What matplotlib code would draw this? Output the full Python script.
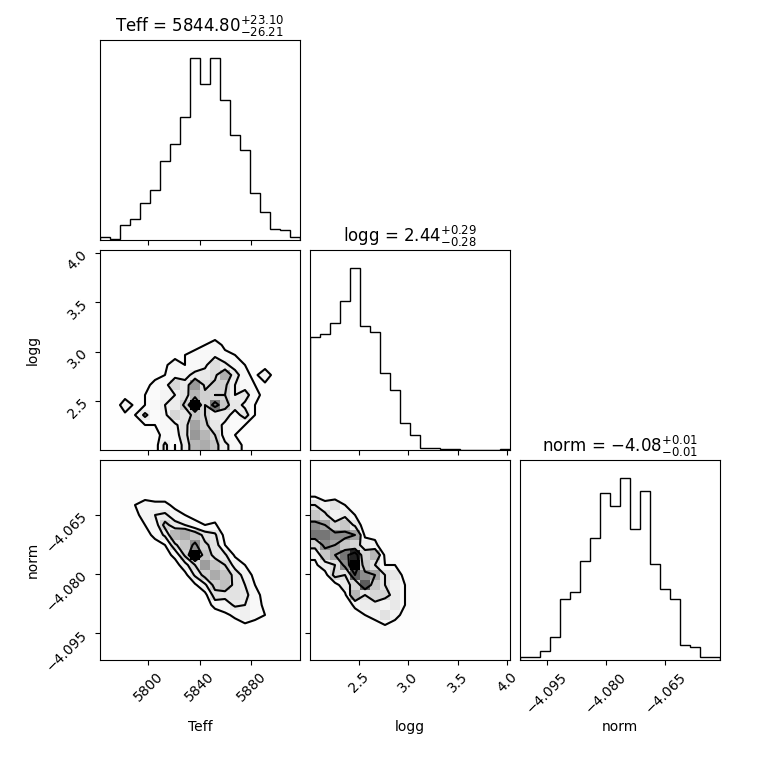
import numpy as np
import matplotlib
matplotlib.use("Agg")
import matplotlib.pyplot as plt
from matplotlib.colors import LinearSegmentedColormap
from matplotlib.ticker import FixedLocator, FixedFormatter, NullLocator

# ---------------- data ----------------
labels = ["Teff", "logg", "norm"]
teff_range = (5762.3, 5917.9)
logg_range = (2.005, 4.03)
norm_range = (-4.1017, -4.0512)

teff_counts = [2, 1, 11, 15, 27, 36, 57, 70, 89, 132, 113, 132, 102, 76, 65, 34, 20, 8, 7, 2]
logg_counts = [101, 104, 114, 134, 163, 111, 106, 69, 54, 24, 13, 2, 2, 1, 1, 0, 0, 0, 0, 1]
norm_counts = [2, 2, 6, 16, 42, 47, 68, 84, 115, 106, 125, 90, 116, 66, 49, 42, 10, 9, 2, 2]

teff_ticks = [5800, 5840, 5880]
teff_ticklabels = ["5800", "5840", "5880"]
logg_ticks = [2.5, 3.0, 3.5, 4.0]
logg_ticklabels = ["2.5", "3.0", "3.5", "4.0"]
norm_ticks = [-4.095, -4.080, -4.065]
norm_ticklabels = ["\u22124.095", "\u22124.080", "\u22124.065"]

titles = [r"Teff = $5844.80_{-26.21}^{+23.10}$",
          r"logg = $2.44_{-0.28}^{+0.29}$",
          r"norm = $-4.08_{-0.01}^{+0.01}$"]

# 2D histogram counts: rows = y bins (bottom -> top), columns = x bins (left -> right)
teff_logg_grid = [
    [0, 0, 1, 1, 1, 1, 8, 3, 9, 16, 17, 14, 8, 5, 2, 1, 1, 0, 0, 0],
    [0, 0, 0, 1, 1, 2, 4, 5, 10, 19, 16, 12, 5, 3, 2, 1, 0, 0, 0, 0],
    [0, 0, 1, 2, 3, 3, 5, 6, 10, 18, 13, 9, 6, 4, 3, 2, 1, 0, 0, 0],
    [0, 1, 2, 3, 8, 4, 6, 12, 9, 14, 12, 7, 9, 5, 9, 3, 2, 1, 0, 0],
    [1, 0, 6, 2, 3, 5, 7, 8, 13, 30, 12, 22, 14, 9, 6, 3, 2, 0, 1, 0],
    [0, 0, 1, 2, 3, 4, 6, 7, 10, 16, 13, 12, 12, 7, 9, 4, 2, 1, 1, 0],
    [0, 0, 0, 1, 2, 4, 5, 12, 8, 19, 11, 13, 13, 7, 5, 3, 2, 1, 0, 0],
    [0, 0, 0, 0, 1, 2, 3, 5, 6, 8, 9, 11, 17, 9, 4, 2, 6, 1, 0, 0],
    [0, 0, 0, 0, 0, 1, 2, 6, 3, 5, 6, 11, 8, 5, 3, 2, 1, 0, 0, 0],
    [0, 0, 0, 0, 0, 0, 1, 1, 3, 4, 5, 6, 4, 3, 2, 0, 0, 0, 0, 0],
    [0, 0, 0, 0, 0, 0, 0, 1, 1, 2, 3, 5, 2, 1, 1, 0, 0, 0, 0, 0],
    [0, 0, 0, 0, 0, 0, 0, 0, 0, 1, 1, 1, 1, 0, 1, 0, 0, 0, 0, 0],
    [0, 0, 0, 0, 0, 0, 0, 0, 0, 0, 0, 1, 0, 0, 0, 0, 0, 0, 1, 0],
    [0, 0, 0, 0, 0, 0, 0, 0, 0, 0, 0, 0, 0, 0, 0, 1, 0, 0, 0, 0],
    [0, 0, 0, 0, 0, 0, 0, 0, 0, 0, 0, 0, 1, 0, 0, 0, 0, 0, 0, 0],
    [0, 0, 0, 0, 0, 0, 0, 0, 0, 0, 0, 0, 0, 0, 0, 0, 0, 0, 0, 0],
    [0, 0, 0, 0, 0, 0, 0, 0, 0, 0, 0, 0, 0, 0, 0, 0, 0, 0, 0, 0],
    [0, 0, 0, 0, 0, 0, 0, 0, 0, 0, 0, 0, 0, 0, 0, 0, 0, 0, 0, 0],
    [0, 0, 0, 0, 0, 0, 0, 0, 0, 0, 0, 0, 0, 0, 0, 0, 0, 0, 0, 0],
    [0, 0, 0, 0, 0, 0, 0, 0, 0, 0, 0, 0, 0, 0, 0, 0, 0, 1, 0, 0],
]

teff_norm_grid = [
    [0, 0, 0, 0, 0, 0, 0, 0, 0, 0, 0, 0, 0, 0, 0, 0, 0, 1, 1, 0],
    [0, 0, 0, 0, 0, 0, 0, 0, 0, 0, 0, 0, 0, 0, 0, 0, 1, 1, 1, 1],
    [0, 0, 0, 0, 0, 0, 0, 0, 0, 0, 0, 0, 0, 0, 2, 2, 2, 1, 1, 0],
    [0, 0, 0, 0, 0, 0, 0, 0, 0, 0, 0, 0, 0, 3, 4, 3, 3, 2, 2, 1],
    [0, 0, 0, 0, 0, 0, 0, 0, 0, 0, 0, 0, 4, 6, 10, 7, 5, 2, 1, 0],
    [0, 0, 0, 0, 0, 0, 0, 0, 0, 0, 0, 8, 8, 12, 11, 7, 4, 0, 1, 0],
    [0, 0, 0, 0, 0, 0, 0, 0, 0, 0, 3, 14, 13, 14, 13, 7, 3, 1, 0, 0],
    [0, 0, 0, 0, 0, 0, 0, 0, 0, 4, 10, 18, 21, 14, 11, 5, 2, 0, 0, 0],
    [0, 0, 0, 0, 0, 0, 0, 0, 3, 12, 18, 24, 20, 14, 9, 3, 0, 0, 0, 0],
    [0, 0, 0, 0, 0, 0, 0, 2, 9, 16, 26, 20, 16, 9, 5, 0, 0, 0, 0, 0],
    [0, 0, 0, 0, 0, 0, 2, 7, 17, 42, 20, 14, 12, 4, 0, 0, 0, 0, 0, 0],
    [0, 0, 0, 0, 0, 2, 5, 15, 20, 28, 17, 14, 5, 0, 0, 0, 0, 0, 0, 0],
    [0, 0, 0, 0, 2, 7, 12, 22, 24, 20, 14, 12, 3, 0, 0, 0, 0, 0, 0, 0],
    [0, 0, 0, 1, 5, 8, 18, 13, 11, 7, 5, 6, 0, 0, 0, 0, 0, 0, 0, 0],
    [0, 0, 1, 3, 8, 11, 12, 8, 5, 3, 0, 2, 0, 0, 0, 0, 0, 0, 0, 0],
    [0, 0, 3, 5, 8, 7, 7, 3, 0, 0, 0, 0, 0, 0, 0, 0, 0, 0, 0, 0],
    [0, 0, 3, 4, 2, 1, 1, 0, 0, 0, 0, 0, 0, 0, 0, 0, 0, 0, 0, 0],
    [0, 1, 3, 2, 2, 0, 0, 0, 0, 0, 0, 0, 0, 0, 0, 0, 0, 0, 0, 0],
    [1, 0, 1, 0, 0, 0, 0, 0, 0, 0, 0, 0, 0, 0, 0, 0, 0, 0, 0, 0],
    [1, 0, 0, 0, 0, 0, 0, 0, 0, 0, 0, 0, 0, 0, 0, 0, 0, 0, 0, 0],
]

logg_norm_grid = [
    [0, 0, 0, 0, 0, 0, 0, 0, 0, 0, 0, 0, 0, 0, 0, 0, 0, 0, 0, 1],
    [0, 0, 0, 0, 0, 0, 0, 0, 0, 1, 0, 0, 0, 0, 0, 0, 0, 0, 0, 0],
    [0, 0, 0, 0, 0, 0, 1, 2, 2, 1, 0, 0, 0, 0, 0, 0, 0, 0, 0, 0],
    [0, 0, 0, 0, 0, 2, 4, 5, 4, 2, 1, 0, 0, 0, 0, 0, 0, 0, 0, 0],
    [0, 0, 0, 0, 3, 5, 6, 10, 6, 4, 2, 0, 1, 1, 0, 0, 0, 0, 0, 0],
    [0, 0, 0, 2, 6, 8, 9, 6, 9, 5, 3, 1, 0, 0, 0, 0, 0, 0, 0, 0],
    [0, 0, 1, 4, 16, 10, 12, 12, 8, 5, 3, 1, 0, 0, 1, 0, 0, 0, 0, 0],
    [0, 0, 3, 8, 12, 24, 14, 10, 7, 5, 2, 0, 1, 0, 0, 0, 0, 0, 0, 0],
    [1, 3, 12, 10, 24, 20, 18, 10, 9, 3, 2, 0, 0, 0, 0, 0, 0, 0, 0, 0],
    [4, 8, 10, 20, 30, 14, 10, 5, 5, 2, 0, 0, 0, 0, 0, 0, 0, 0, 0, 0],
    [6, 14, 18, 22, 28, 12, 16, 4, 2, 0, 0, 0, 0, 0, 0, 0, 0, 0, 0, 0],
    [12, 20, 18, 14, 12, 8, 6, 2, 1, 0, 0, 0, 0, 0, 0, 0, 0, 0, 0, 0],
    [22, 22, 20, 20, 18, 4, 4, 0, 0, 0, 0, 0, 0, 0, 0, 0, 0, 0, 0, 0],
    [20, 18, 12, 14, 9, 2, 2, 0, 0, 0, 0, 0, 0, 0, 0, 0, 0, 0, 0, 0],
    [14, 11, 6, 9, 5, 1, 0, 0, 0, 0, 0, 0, 0, 0, 0, 0, 0, 0, 0, 0],
    [10, 7, 10, 5, 3, 0, 0, 0, 0, 0, 0, 0, 0, 0, 0, 0, 0, 0, 0, 0],
    [4, 2, 1, 1, 0, 0, 0, 0, 0, 0, 0, 0, 0, 0, 0, 0, 0, 0, 0, 0],
    [2, 2, 1, 1, 0, 0, 0, 0, 0, 0, 0, 0, 0, 0, 0, 0, 0, 0, 0, 0],
    [0, 0, 0, 0, 0, 0, 0, 0, 0, 0, 0, 0, 0, 0, 0, 0, 0, 0, 0, 0],
    [0, 0, 0, 0, 0, 0, 0, 0, 0, 0, 0, 0, 0, 0, 0, 0, 0, 0, 0, 0],
]

# ---------------- plotting ----------------
counts = [teff_counts, logg_counts, norm_counts]
ranges = [teff_range, logg_range, norm_range]
ticks = [teff_ticks, logg_ticks, norm_ticks]
ticklabels = [teff_ticklabels, logg_ticklabels, norm_ticklabels]
grids = {(1, 0): teff_logg_grid, (2, 0): teff_norm_grid, (2, 1): logg_norm_grid}

white_cmap = LinearSegmentedColormap.from_list("white_cmap", [(1, 1, 1), (1, 1, 1)], N=2)
density_cmap = LinearSegmentedColormap.from_list("density_cmap", [(0, 0, 0, 1), (1, 1, 1, 0)])


def hist2d(ax, grid, xr, yr):
    H = np.array(grid, dtype=float).T  # shape (nx, ny)
    X = np.linspace(xr[0], xr[1], H.shape[0] + 1)
    Y = np.linspace(yr[0], yr[1], H.shape[1] + 1)
    levels = 1.0 - np.exp(-0.5 * np.arange(0.5, 2.1, 0.5) ** 2)
    Hflat = np.sort(H.flatten())[::-1]
    sm = np.cumsum(Hflat)
    sm /= sm[-1]
    V = np.empty(len(levels))
    for i, v0 in enumerate(levels):
        sel = Hflat[sm <= v0]
        V[i] = sel[-1] if len(sel) else Hflat[0]
    V.sort()
    m = np.diff(V) == 0
    while np.any(m):
        V[np.where(m)[0][0]] *= 1.0 - 1e-4
        m = np.diff(V) == 0
    V.sort()
    X1, Y1 = 0.5 * (X[1:] + X[:-1]), 0.5 * (Y[1:] + Y[:-1])
    H2 = H.min() + np.zeros((H.shape[0] + 4, H.shape[1] + 4))
    H2[2:-2, 2:-2] = H
    H2[2:-2, 1] = H[:, 0]
    H2[2:-2, -2] = H[:, -1]
    H2[1, 2:-2] = H[0]
    H2[-2, 2:-2] = H[-1]
    H2[1, 1] = H[0, 0]
    H2[1, -2] = H[0, -1]
    H2[-2, 1] = H[-1, 0]
    H2[-2, -2] = H[-1, -1]
    X2 = np.concatenate([X1[0] + np.array([-2, -1]) * np.diff(X1[:2]), X1,
                         X1[-1] + np.array([1, 2]) * np.diff(X1[-2:])])
    Y2 = np.concatenate([Y1[0] + np.array([-2, -1]) * np.diff(Y1[:2]), Y1,
                         Y1[-1] + np.array([1, 2]) * np.diff(Y1[-2:])])
    ax.contourf(X2, Y2, H2.T, [V.min(), H.max()], cmap=white_cmap, antialiased=False)
    ax.pcolor(X, Y, H.max() - H.T, cmap=density_cmap)
    ax.contour(X2, Y2, H2.T, V, colors="k", linewidths=1.5)
    ax.set_xlim(xr)
    ax.set_ylim(yr)


K = 3
fig, axes = plt.subplots(K, K, figsize=(7.6, 7.6), dpi=100)
lb = 1.0 / 7.6
tr = 7.2 / 7.6
fig.subplots_adjust(left=lb, bottom=lb, right=tr, top=tr, wspace=0.05, hspace=0.05)

for i in range(K):
    for j in range(K):
        ax = axes[i, j]
        if j > i:
            ax.set_frame_on(False)
            ax.set_xticks([])
            ax.set_yticks([])
            continue
        if i == j:
            n = np.array(counts[i], dtype=float)
            edges = np.linspace(ranges[i][0], ranges[i][1], len(n) + 1)
            centers = 0.5 * (edges[1:] + edges[:-1])
            ax.hist(centers, bins=edges, weights=n, histtype="step", color="k")
            ax.set_xlim(ranges[i])
            ax.set_ylim(0, 1.1 * n.max())
            ax.yaxis.set_major_locator(NullLocator())
            ax.set_title(titles[i], fontsize=12)
        else:
            hist2d(ax, grids[(i, j)], ranges[j], ranges[i])
            ax.yaxis.set_major_locator(FixedLocator(ticks[i]))
            if j == 0:
                ax.yaxis.set_major_formatter(FixedFormatter(ticklabels[i]))
                for lab in ax.get_yticklabels():
                    lab.set_rotation(45)
                ax.set_ylabel(labels[i])
                ax.yaxis.set_label_coords(-0.3, 0.5)
            else:
                ax.set_yticklabels([])
        ax.xaxis.set_major_locator(FixedLocator(ticks[j]))
        if i == K - 1:
            ax.xaxis.set_major_formatter(FixedFormatter(ticklabels[j]))
            for lab in ax.get_xticklabels():
                lab.set_rotation(45)
            ax.set_xlabel(labels[j])
            ax.xaxis.set_label_coords(0.5, -0.3)
        else:
            ax.set_xticklabels([])

fig.savefig("out.png", dpi=100)
